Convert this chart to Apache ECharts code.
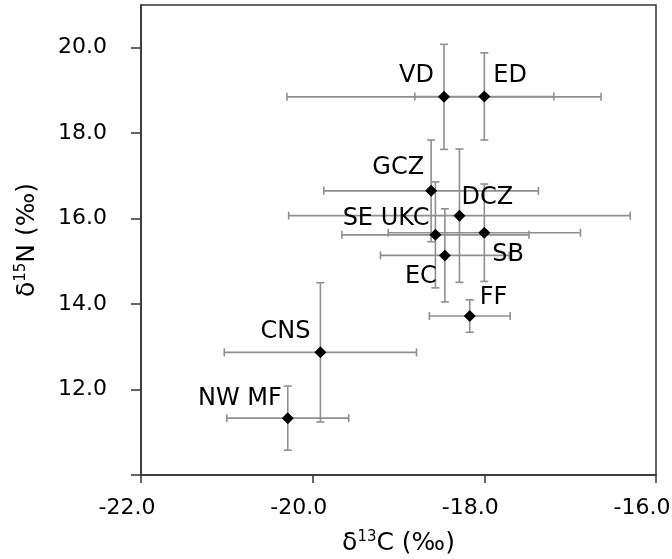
<!DOCTYPE html>
<html>
<head>
<meta charset="utf-8">
<script src="https://cdn.jsdelivr.net/npm/echarts@6/dist/echarts.min.js"></script>
<style>
  html, body { margin: 0; padding: 0; background: #fff; }
  #chart { width: 672px; height: 559px; }
</style>
</head>
<body>
<div id="chart"></div>
<script>
// site groups and their mean values with SD
var sites = ['VD', 'ED', 'GCZ', 'DCZ', 'SE UKC', 'SB', 'EC', 'FF', 'CNS', 'NW MF'];
var d13C = [-18.47, -18.00, -18.62, -18.29, -18.57, -18.00, -18.46, -18.17, -19.91, -20.29];
var d13CErr = [1.83, 0.81, 1.25, 1.99, 1.09, 1.12, 0.75, 0.47, 1.12, 0.71];
var d15N = [18.85, 18.86, 16.65, 16.07, 15.62, 15.67, 15.14, 13.72, 12.87, 11.33];
var d15NErr = [1.23, 1.02, 1.19, 1.56, 1.24, 1.14, 1.09, 0.38, 1.63, 0.75];
var xTicks = [-22, -20, -18, -16];
var yTicks = [12, 14, 16, 18, 20];

// label placement next to each point: [align, dx, dy]
var labelPos = [
  ['right', -10, -21], ['left', 9, -21], ['right', -7, -23], ['left', 2, -18],
  ['right', -6, -16], ['left', 8, 22], ['right', -8, 21], ['left', 10, -18],
  ['right', -10, -21], ['right', -6, -19]
];

var font = 'DejaVu Sans';
var chart = echarts.init(document.getElementById('chart'));

var errData = [];
var ptData = [];
for (var i = 0; i < sites.length; i++) {
  errData.push([d13C[i], d15N[i], d13CErr[i], d15NErr[i]]);
  ptData.push({
    name: sites[i],
    value: [d13C[i], d15N[i]],
    label: { align: labelPos[i][0], offset: [labelPos[i][1], labelPos[i][2]] }
  });
}

var nameRich = {
  a: { fontFamily: font, fontSize: 25, color: '#000' },
  s: { fontFamily: font, fontSize: 15, color: '#000', padding: [0, 0, 11, 0] }
};

chart.setOption({
  animation: false,
  grid: { left: 141, right: 16, top: 5, bottom: 84, show: true, borderColor: '#333', borderWidth: 1.5,
    outerBoundsMode: 'none' },
  xAxis: {
    type: 'value', min: -22, max: -16, interval: 2,
    name: '{a|δ}{s|13}{a|C (‰)}', nameLocation: 'middle', nameGap: 55,
    nameTextStyle: { rich: nameRich },
    axisLine: { lineStyle: { color: '#333', width: 1.5 } },
    axisTick: { inside: false, length: 8, lineStyle: { color: '#333', width: 1.5 } },
    axisLabel: { customValues: xTicks, margin: 22, fontFamily: font, fontSize: 22, color: '#000',
      rich: { t: { fontFamily: font, fontSize: 22, color: '#000', padding: [0, 28, 0, 0] } },
      formatter: function (v) { return '{t|' + v.toFixed(1) + '}'; } },
    splitLine: { show: false }
  },
  yAxis: {
    type: 'value', min: 10, max: 21, interval: 2,
    name: '{a|δ}{s|15}{a|N (‰)}', nameLocation: 'middle', nameGap: 101, nameRotate: 90,
    nameTextStyle: { rich: nameRich },
    axisLine: { lineStyle: { color: '#333', width: 1.5 } },
    axisTick: { inside: false, length: 10, customValues: [10, 12, 14, 16, 18, 20],
      lineStyle: { color: '#333', width: 1.5 } },
    axisLabel: { customValues: yTicks, margin: 34, fontFamily: font, fontSize: 22, color: '#000',
      formatter: function (v) { return v.toFixed(1); } },
    splitLine: { show: false }
  },
  series: [
    {
      type: 'custom',
      data: errData,
      z: 2,
      renderItem: function (params, api) {
        var x = api.value(0), y = api.value(1), ex = api.value(2), ey = api.value(3);
        var l = api.coord([x - ex, y]), r = api.coord([x + ex, y]);
        var t = api.coord([x, y + ey]), b = api.coord([x, y - ey]);
        var cap = 4;
        var st = { stroke: '#8f8f8f', lineWidth: 1.6 };
        return {
          type: 'group',
          children: [
            { type: 'line', shape: { x1: l[0], y1: l[1], x2: r[0], y2: r[1] }, style: st },
            { type: 'line', shape: { x1: l[0], y1: l[1] - cap, x2: l[0], y2: l[1] + cap }, style: st },
            { type: 'line', shape: { x1: r[0], y1: r[1] - cap, x2: r[0], y2: r[1] + cap }, style: st },
            { type: 'line', shape: { x1: t[0], y1: t[1], x2: b[0], y2: b[1] }, style: st },
            { type: 'line', shape: { x1: t[0] - cap, y1: t[1], x2: t[0] + cap, y2: t[1] }, style: st },
            { type: 'line', shape: { x1: b[0] - cap, y1: b[1], x2: b[0] + cap, y2: b[1] }, style: st }
          ]
        };
      }
    },
    {
      type: 'scatter',
      data: ptData,
      z: 3,
      symbol: 'diamond',
      symbolSize: 12,
      itemStyle: { color: '#000', opacity: 1 },
      label: {
        show: true, position: 'inside', verticalAlign: 'middle', opacity: 1,
        fontFamily: font, fontSize: 24, color: '#000',
        formatter: function (p) { return p.name; }
      }
    }
  ]
});
</script>
</body>
</html>
